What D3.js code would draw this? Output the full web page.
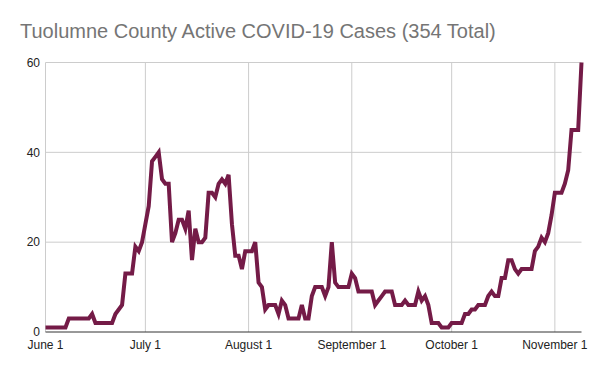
<!DOCTYPE html>
<html>
<head>
<meta charset="utf-8">
<script src="https://cdn.jsdelivr.net/npm/d3@7"></script>
<style>
  body { margin: 0; background: #fff; }
  text { font-family: "Liberation Sans", Arial, sans-serif; }
</style>
</head>
<body>
<div id="chart"></div>
<script>
// 資料
const titleText = "Tuolumne County Active COVID-19 Cases (354 Total)";
const startDate = new Date(2020, 5, 1); // June 1
const activeCases = [
  1, 1, 1, 1, 1, 1, 1, 3, 3, 3, 3, 3, 3, 3, 4, 2, 2, 2, 2, 2, 2, 4, 5, 6, 13, 13, 13, 19, 18, 20,
  24, 28, 38, 39, 40, 34, 33, 33, 20, 22, 25, 25, 23, 27, 16, 23, 20, 20, 21, 31, 31, 30, 33, 34, 33, 35, 24, 17, 17, 14, 18,
  18, 18, 20, 11, 10, 5, 6, 6, 6, 4, 7, 6, 3, 3, 3, 3, 6, 3, 3, 8, 10, 10, 10, 8, 10, 20, 11, 10, 10, 10, 10,
  13, 12, 9, 9, 9, 9, 9, 6, 7, 8, 9, 9, 9, 6, 6, 6, 7, 6, 6, 6, 9, 7, 8, 6, 2, 2, 2, 1, 1, 1,
  2, 2, 2, 2, 4, 4, 5, 5, 6, 6, 6, 8, 9, 8, 8, 12, 12, 16, 16, 14, 13, 14, 14, 14, 14, 18, 19, 21, 20, 22, 26,
  31, 31, 31, 33, 36, 45, 45, 45, 60
];
const tickDates = [
  new Date(2020, 5, 1), new Date(2020, 6, 1), new Date(2020, 7, 1),
  new Date(2020, 8, 1), new Date(2020, 9, 1), new Date(2020, 10, 1)
];
const tickLabels = ["June 1", "July 1", "August 1", "September 1", "October 1", "November 1"];
const yTicks = [0, 20, 40, 60];

const data = activeCases.map((v, i) => ({ date: d3.timeDay.offset(startDate, i), value: v }));

// 尺寸
const width = 600;
const height = 371;
const margin = { top: 62.5, right: 18.5, bottom: 39, left: 45.5 };

const svg = d3.select("#chart")
  .append("svg")
  .attr("width", width)
  .attr("height", height);

const x = d3.scaleTime()
  .domain(d3.extent(data, d => d.date))
  .range([margin.left, width - margin.right]);

const y = d3.scaleLinear()
  .domain([0, 60])
  .range([height - margin.bottom, margin.top]);

// 標題
svg.append("text")
  .attr("x", 20)
  .attr("y", 38)
  .attr("font-size", 20)
  .attr("fill", "#757575")
  .text(titleText);

// 格線
svg.append("g")
  .selectAll("line")
  .data(yTicks.slice(1))
  .join("line")
  .attr("x1", margin.left)
  .attr("x2", width - margin.right)
  .attr("y1", d => y(d))
  .attr("y2", d => y(d))
  .attr("stroke", "#cccccc")
  .attr("stroke-width", 1);

svg.append("g")
  .selectAll("line")
  .data(tickDates)
  .join("line")
  .attr("x1", d => x(d))
  .attr("x2", d => x(d))
  .attr("y1", margin.top)
  .attr("y2", height - margin.bottom)
  .attr("stroke", "#cccccc")
  .attr("stroke-width", 1);

// Y 軸標籤
svg.append("g")
  .selectAll("text")
  .data(yTicks)
  .join("text")
  .attr("x", 40)
  .attr("y", d => y(d))
  .attr("dy", "0.35em")
  .attr("text-anchor", "end")
  .attr("font-size", 12)
  .attr("fill", "#222")
  .text(d => d);

// X 軸標籤
svg.append("g")
  .selectAll("text")
  .data(tickDates)
  .join("text")
  .attr("x", d => x(d))
  .attr("y", 349)
  .attr("text-anchor", "middle")
  .attr("font-size", 12)
  .attr("fill", "#222")
  .text((d, i) => tickLabels[i]);

// 折線
const line = d3.line()
  .x(d => x(d.date))
  .y(d => y(d.value));

svg.append("path")
  .datum(data)
  .attr("d", line)
  .attr("fill", "none")
  .attr("stroke", "#741b47")
  .attr("stroke-width", 4)
  .attr("stroke-linejoin", "miter");

// 底部軸線
svg.append("line")
  .attr("x1", margin.left)
  .attr("x2", width - margin.right)
  .attr("y1", y(0))
  .attr("y2", y(0))
  .attr("stroke", "#333")
  .attr("stroke-width", 1);
</script>
</body>
</html>
